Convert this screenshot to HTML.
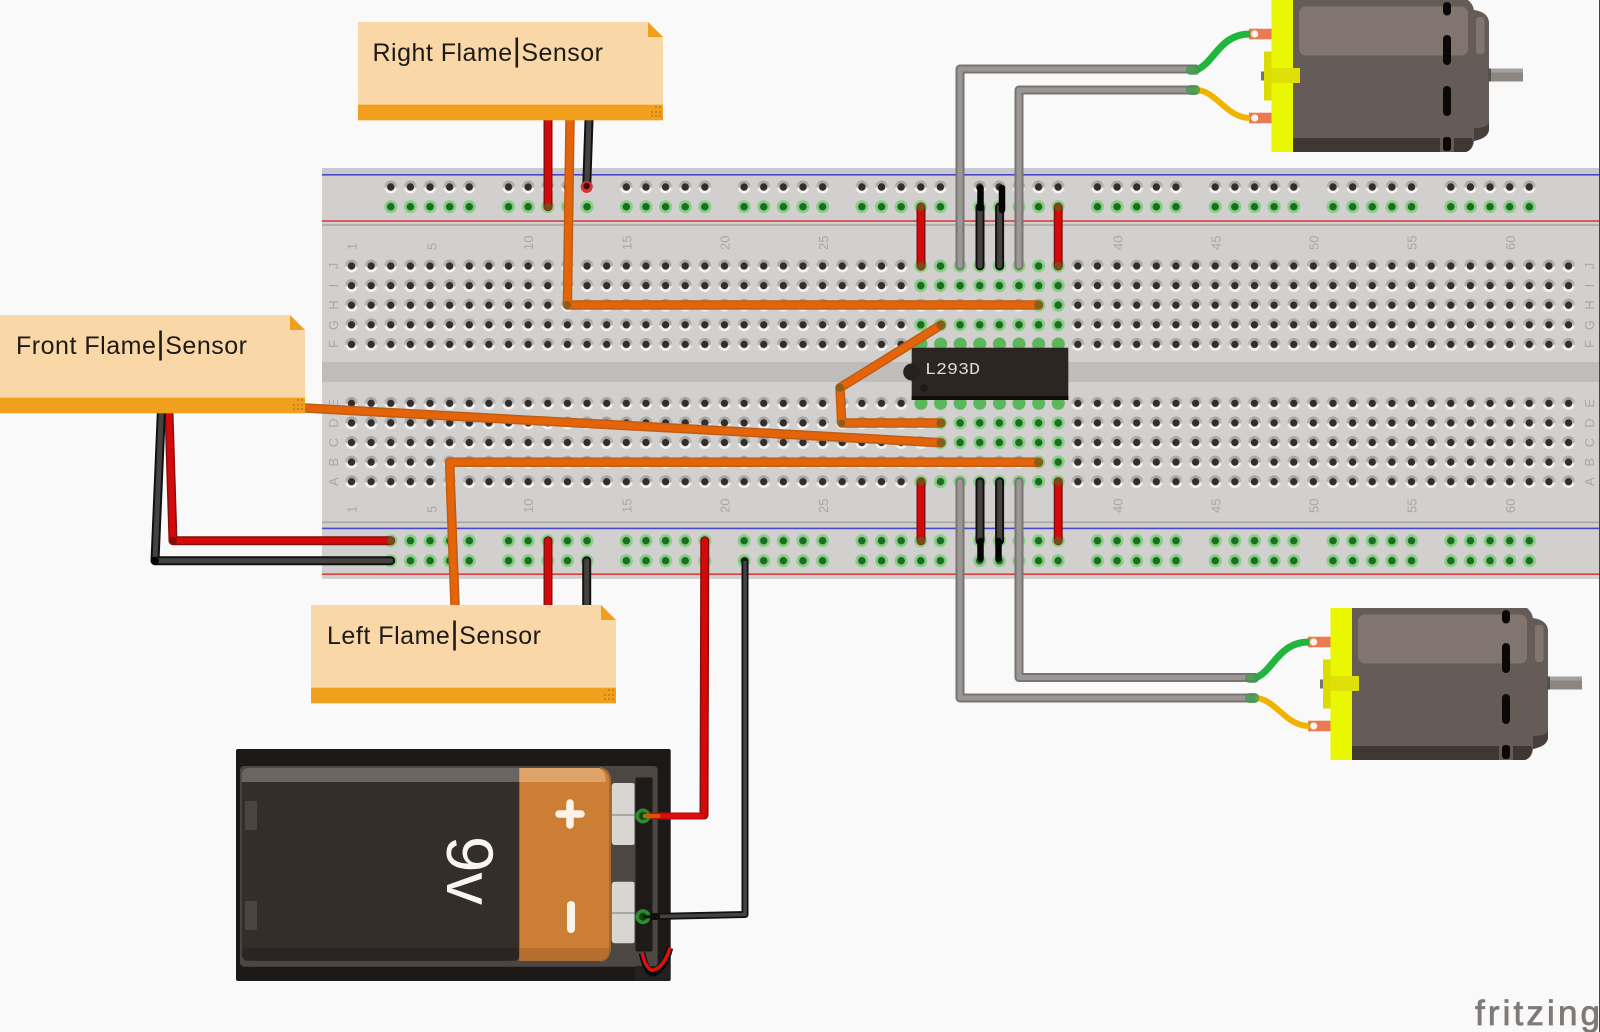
<!DOCTYPE html>
<html><head><meta charset="utf-8"><style>
html,body{margin:0;padding:0;background:#f9f9f9;overflow:hidden}
svg{display:block}
text{font-family:"Liberation Sans",sans-serif}
.n{font-size:13px;fill:#a9a7a4}
.nt{font-size:25px;fill:#1d1a18}
.nt tspan{font-size:32px;font-weight:normal}
</style></head><body>
<svg width="1600" height="1032" viewBox="0 0 1600 1032" xmlns="http://www.w3.org/2000/svg">
<defs>
<linearGradient id="hg" x1="0" y1="0" x2="0" y2="1"><stop offset="0" stop-color="#a3a09d"/><stop offset=".48" stop-color="#b9b6b4"/><stop offset=".62" stop-color="#eeedec"/><stop offset="1" stop-color="#f7f6f5"/></linearGradient>
<g id="h"><circle r="6.4" fill="url(#hg)"/><circle r="3.7" fill="#332e2b"/></g>
<g id="g"><circle r="6.5" fill="#86cf84"/><circle r="3.8" fill="#1c6d22"/></g>
<pattern id="pm" patternUnits="userSpaceOnUse" x="341.68" y="256.2" width="19.63" height="19.6"><use href="#h" x="9.815" y="9.8"/></pattern>
<pattern id="pm2" patternUnits="userSpaceOnUse" x="341.68" y="393.5" width="19.63" height="19.6"><use href="#h" x="9.815" y="9.8"/></pattern>
<pattern id="pr" patternUnits="userSpaceOnUse" x="380.95" y="177" width="117.78" height="20">
<use href="#h" x="9.815" y="10"/><use href="#h" x="29.445" y="10"/><use href="#h" x="49.075" y="10"/><use href="#h" x="68.705" y="10"/><use href="#h" x="88.335" y="10"/></pattern>
<pattern id="pg" patternUnits="userSpaceOnUse" x="380.95" y="196.7" width="117.78" height="20">
<use href="#g" x="9.815" y="10"/><use href="#g" x="29.445" y="10"/><use href="#g" x="49.075" y="10"/><use href="#g" x="68.705" y="10"/><use href="#g" x="88.335" y="10"/></pattern>
<pattern id="pg2" patternUnits="userSpaceOnUse" x="380.95" y="530.7" width="117.78" height="20">
<use href="#g" x="9.815" y="10"/><use href="#g" x="29.445" y="10"/><use href="#g" x="49.075" y="10"/><use href="#g" x="68.705" y="10"/><use href="#g" x="88.335" y="10"/></pattern>
<pattern id="pg3" patternUnits="userSpaceOnUse" x="380.95" y="550.7" width="117.78" height="20">
<use href="#g" x="9.815" y="10"/><use href="#g" x="29.445" y="10"/><use href="#g" x="49.075" y="10"/><use href="#g" x="68.705" y="10"/><use href="#g" x="88.335" y="10"/></pattern>
<pattern id="pgm" patternUnits="userSpaceOnUse" x="911" y="256.2" width="19.63" height="19.6"><use href="#g" x="9.815" y="9.8"/></pattern>
<pattern id="pgm2" patternUnits="userSpaceOnUse" x="911" y="393.5" width="19.63" height="19.6"><use href="#g" x="9.815" y="9.8"/></pattern>
<g id="motor">
<path d="M1292 0H1468Q1473 4 1474 10Q1488 12 1489 22V130Q1488 138 1474 141Q1473 150 1466 152H1292Z" fill="#655c57"/>
<path d="M1292 138H1472L1473 141Q1472 150 1466 152H1292Z" fill="#3f3733"/>
<path d="M1474 128Q1488 128 1489 122V130Q1488 138 1474 141Z" fill="#473f3b"/>
<rect x="1299" y="6.5" width="169" height="49" rx="7" fill="#80766f"/>
<rect x="1476" y="17" width="8.5" height="37" rx="3" fill="#80766f"/>
<rect x="1440" y="136" width="14" height="16" fill="#655c57"/>
<rect x="1443" y="2" width="8" height="13.5" rx="4" fill="#0b0908"/>
<rect x="1443" y="35" width="8" height="30" rx="4" fill="#0b0908"/>
<rect x="1443" y="86" width="8" height="30" rx="4" fill="#0b0908"/>
<rect x="1443" y="137" width="8" height="14" rx="3" fill="#0b0908"/>
<rect x="1488" y="68.5" width="35" height="13" fill="#8c8683"/>
<rect x="1488" y="68.5" width="35" height="4" fill="#a5a09d"/>
<rect x="1488" y="68.5" width="3" height="13" fill="#55504c"/>
<rect x="1261" y="71.5" width="4" height="9" fill="#77736a"/>
<rect x="1264" y="51.5" width="8" height="49" fill="#dcdc00"/>
<rect x="1249" y="28.7" width="23" height="10.6" fill="#e87c50"/>
<rect x="1249" y="112.7" width="23" height="10.6" fill="#e87c50"/>
<circle cx="1254.7" cy="34" r="3.6" fill="#fbf3ea"/><circle cx="1254.7" cy="118" r="3.6" fill="#fbf3ea"/>
<rect x="1271.5" y="0" width="21.5" height="152" fill="#e9f700"/>
<rect x="1271.5" y="68" width="28.5" height="15" fill="#dfdf0a"/>
<path d="M1196 70C1214 64 1219 34 1250 34" fill="none" stroke="#22b53d" stroke-width="7"/>
<path d="M1196 90C1216 90 1226 118 1250 118" fill="none" stroke="#f0b400" stroke-width="6"/>
<rect x="1186" y="65" width="14" height="10" rx="4.5" fill="#3d9a49" opacity=".75"/>
<rect x="1186" y="85" width="14" height="10" rx="4.5" fill="#3d9a49" opacity=".75"/>
</g>
<g id="wor" fill="none" stroke-linejoin="round" stroke-linecap="round">
<path d="M570 120L567.4 305H1038.6"/>
<path d="M941 325L840 387.7L841.7 423H941"/>
<path d="M305 408L941 442.7"/>
<path d="M455 605L449.6 462.3H1038.6"/>
</g>
<g id="wre" fill="none" stroke-linejoin="round" stroke-linecap="round">
<path d="M548 120V206.7"/>
<path d="M169 413L173 540.7H390.7"/>
<path d="M548 605V540.7"/>
<path d="M921 207V266"/><path d="M1058.2 207V266"/>
<path d="M921 481.7V540.7"/><path d="M1058.2 481.7V540.7"/>
<path d="M704 815L704.8 540.7"/>
</g>
<g id="wbl" fill="none" stroke-linejoin="round" stroke-linecap="round">
<path d="M589 120L586.7 187"/>
<path d="M161.3 413L155 560.7H390.7"/>
<path d="M586.7 605V560.7"/>
<path d="M980 207V266"/><path d="M999.6 207V266"/>
<path d="M980 481.7V540.7"/><path d="M999.6 481.7V540.7"/>
</g>
<g id="wgr" fill="none" stroke-linejoin="round" stroke-linecap="round">
<path d="M960 266V69H1196"/>
<path d="M1019 266V90H1196"/>
<path d="M960 481.7V698H1255"/>
<path d="M1019 481.7V677.5H1255"/>
</g>
<g id="note">
<path d="M0 0H290L305 15V98H0Z" fill="#f9d7a6"/>
<rect x="0" y="82.7" width="305" height="15.6" fill="#f0a01c"/>
<path d="M290 0L305 15H290Z" fill="#f0a01c"/>
<g fill="#c9851a"><rect x="297" y="84" width="2" height="2"/><rect x="301" y="84" width="2" height="2"/><rect x="297" y="89" width="2" height="2"/><rect x="301" y="89" width="2" height="2"/><rect x="293" y="89" width="2" height="2"/><rect x="293" y="93" width="2" height="2"/><rect x="297" y="93" width="2" height="2"/><rect x="301" y="93" width="2" height="2"/></g>
</g>
</defs>

<rect width="1600" height="1032" fill="#f9f9f9"/>

<!-- breadboard -->
<rect x="322" y="168" width="1278" height="411" fill="#d2d0ce"/>
<rect x="322" y="168" width="1278" height="6" fill="#c9c7d2"/>
<rect x="322" y="362" width="1278" height="20" fill="#bfbcb9"/>
<rect x="322" y="174" width="1278" height="1.6" fill="#4a48c8"/>
<rect x="322" y="220.2" width="1278" height="1.6" fill="#d6403f"/>
<rect x="322" y="224.2" width="1278" height="1.6" fill="#aaa7a5"/>
<rect x="322" y="521.5" width="1278" height="1.6" fill="#aaa7a5"/>
<rect x="322" y="527.6" width="1278" height="1.6" fill="#4a48c8"/>
<rect x="322" y="573.4" width="1278" height="1.6" fill="#d6403f"/>

<!-- holes -->
<rect x="341.68" y="256.2" width="1236.7" height="98" fill="url(#pm)"/>
<rect x="341.68" y="393.5" width="1236.7" height="98" fill="url(#pm2)"/>
<rect x="380.95" y="177" width="1177" height="20" fill="url(#pr)"/>
<rect x="380.95" y="196.7" width="1177" height="20" fill="url(#pg)"/>
<rect x="380.95" y="530.7" width="1177" height="20" fill="url(#pg2)"/>
<rect x="380.95" y="550.7" width="1177" height="20" fill="url(#pg3)"/>

<!-- green main rows -->
<rect x="911" y="256.2" width="157" height="39.2" fill="url(#pgm)"/>
<rect x="1029" y="295.4" width="39.3" height="19.6" fill="url(#pgm)"/>
<rect x="911" y="315" width="157" height="39.2" fill="url(#pgm)"/>
<rect x="911" y="393.5" width="157" height="19.6" fill="url(#pgm2)"/>
<rect x="931" y="413.1" width="137" height="39.2" fill="url(#pgm2)"/>
<rect x="1029" y="452.3" width="39.3" height="19.6" fill="url(#pgm2)"/>
<rect x="911" y="471.9" width="157" height="19.6" fill="url(#pgm2)"/>

<!-- labels -->
<g class="n">
<text transform="translate(356.5,250) rotate(-90)">1</text>
<text transform="translate(436.5,250) rotate(-90)">5</text>
<text transform="translate(533,250) rotate(-90)">10</text>
<text transform="translate(631.5,250) rotate(-90)">15</text>
<text transform="translate(729.5,250) rotate(-90)">20</text>
<text transform="translate(828,250) rotate(-90)">25</text>
<text transform="translate(1122.5,250) rotate(-90)">40</text>
<text transform="translate(1220.5,250) rotate(-90)">45</text>
<text transform="translate(1318.5,250) rotate(-90)">50</text>
<text transform="translate(1416.5,250) rotate(-90)">55</text>
<text transform="translate(1515,250) rotate(-90)">60</text>
<text transform="translate(356.5,513) rotate(-90)">1</text>
<text transform="translate(436.5,513) rotate(-90)">5</text>
<text transform="translate(533,513) rotate(-90)">10</text>
<text transform="translate(631.5,513) rotate(-90)">15</text>
<text transform="translate(729.5,513) rotate(-90)">20</text>
<text transform="translate(828,513) rotate(-90)">25</text>
<text transform="translate(1122.5,513) rotate(-90)">40</text>
<text transform="translate(1220.5,513) rotate(-90)">45</text>
<text transform="translate(1318.5,513) rotate(-90)">50</text>
<text transform="translate(1416.5,513) rotate(-90)">55</text>
<text transform="translate(1515,513) rotate(-90)">60</text>
<g text-anchor="middle">
<text transform="translate(338,266) rotate(-90)">J</text><text transform="translate(338,285.5) rotate(-90)">I</text><text transform="translate(338,305) rotate(-90)">H</text><text transform="translate(338,325) rotate(-90)">G</text><text transform="translate(338,344) rotate(-90)">F</text>
<text transform="translate(338,403.3) rotate(-90)">E</text><text transform="translate(338,423) rotate(-90)">D</text><text transform="translate(338,442.6) rotate(-90)">C</text><text transform="translate(338,462.3) rotate(-90)">B</text><text transform="translate(338,481.7) rotate(-90)">A</text>
<text transform="translate(1594,266) rotate(-90)">J</text><text transform="translate(1594,285.5) rotate(-90)">I</text><text transform="translate(1594,305) rotate(-90)">H</text><text transform="translate(1594,325) rotate(-90)">G</text><text transform="translate(1594,344) rotate(-90)">F</text>
<text transform="translate(1594,403.3) rotate(-90)">E</text><text transform="translate(1594,423) rotate(-90)">D</text><text transform="translate(1594,442.6) rotate(-90)">C</text><text transform="translate(1594,462.3) rotate(-90)">B</text><text transform="translate(1594,481.7) rotate(-90)">A</text>
</g></g>

<!-- IC -->
<g fill="#5cb65c"><circle cx="921" cy="344" r="6.5"/><circle cx="940.6" cy="344" r="6.5"/><circle cx="960.2" cy="344" r="6.5"/><circle cx="979.8" cy="344" r="6.5"/><circle cx="999.5" cy="344" r="6.5"/><circle cx="1019" cy="344" r="6.5"/><circle cx="1038.7" cy="344" r="6.5"/><circle cx="1058.3" cy="344" r="6.5"/>
<circle cx="921" cy="403.3" r="6.5"/><circle cx="940.6" cy="403.3" r="6.5"/><circle cx="960.2" cy="403.3" r="6.5"/><circle cx="979.8" cy="403.3" r="6.5"/><circle cx="999.5" cy="403.3" r="6.5"/><circle cx="1019" cy="403.3" r="6.5"/><circle cx="1038.7" cy="403.3" r="6.5"/><circle cx="1058.3" cy="403.3" r="6.5"/></g>
<rect x="911.7" y="347.7" width="156.6" height="52.3" fill="#2c2623"/>
<rect x="911.7" y="396" width="156.6" height="4" fill="#0f0c0b"/>
<circle cx="911.7" cy="372" r="8.5" fill="#252120"/>
<circle cx="924" cy="388" r="3.8" fill="#1e1a18"/>
<text x="925" y="374" textLength="55" lengthAdjust="spacingAndGlyphs" style="font-family:'Liberation Mono',monospace;font-size:17px;fill:#dedbd8">L293D</text>

<!-- wires -->
<use href="#wgr" stroke="#787473" stroke-width="9"/><use href="#wgr" stroke="#9b9795" stroke-width="5"/>
<use href="#wre" stroke="#84100f" stroke-width="9"/><use href="#wre" stroke="#d40a0a" stroke-width="6"/>
<use href="#wbl" stroke="#111" stroke-width="9"/><use href="#wbl" stroke="#464240" stroke-width="5"/>
<use href="#wor" stroke="#bc5e14" stroke-width="9.5"/><use href="#wor" stroke="#e5640a" stroke-width="6.5"/>
<!-- jumper tips -->
<g stroke="#050505" stroke-width="6.5" stroke-linecap="round"><path d="M980.5 188V208"/><path d="M1002 188V210"/><path d="M980.5 541V559"/><path d="M998.5 541V559"/></g>
<g fill="#8a5d1a"><circle cx="941" cy="325" r="4.5"/><circle cx="941" cy="423" r="4.5"/><circle cx="941" cy="442.7" r="4.5"/><circle cx="1038.6" cy="305" r="4.5"/><circle cx="1038.6" cy="462.3" r="4.5"/><circle cx="840" cy="387.7" r="4"/><circle cx="841.7" cy="423" r="3.5"/><circle cx="567.4" cy="305" r="4"/></g>
<g fill="#7a4a18"><circle cx="921" cy="207" r="4"/><circle cx="1058.2" cy="207" r="4"/><circle cx="921" cy="266" r="4"/><circle cx="1058.2" cy="266" r="4"/><circle cx="921" cy="481.7" r="4"/><circle cx="1058.2" cy="481.7" r="4"/><circle cx="921" cy="540.7" r="4"/><circle cx="1058.2" cy="540.7" r="4"/><circle cx="548" cy="206.7" r="4"/><circle cx="390.7" cy="540.7" r="4"/></g>
<circle cx="586.7" cy="187" r="6" fill="#d83232"/><circle cx="586.7" cy="186" r="3.2" fill="#40080a"/>
<circle cx="155" cy="560.7" r="4" fill="#050505"/><circle cx="173" cy="540.7" r="4" fill="#8a0d0d"/>

<!-- motors -->
<use href="#motor"/>
<use href="#motor" transform="translate(59,608)"/>

<!-- battery -->
<rect x="236" y="749" width="434.7" height="232" rx="2" fill="#1c1916"/>
<rect x="240" y="766" width="417.7" height="200.7" rx="4" fill="#4c4743"/>
<rect x="635" y="966" width="35" height="15" fill="#24201d"/>
<rect x="241.7" y="768" width="278" height="192.7" rx="9" fill="#352d2a"/>
<path d="M248 768H519.5V782H241.7V775Q242 769 248 768Z" fill="#6b6562"/>
<rect x="241.7" y="948" width="278" height="12.7" rx="6" fill="#2a2422"/>
<path d="M519.3 768H600Q610 770 610 782V948Q609 960 600 960.7H519.3Z" fill="#cc7e35"/>
<path d="M519.3 768H600Q605 770 606 782H519.3Z" fill="#dfa36a"/>
<path d="M519.3 948H610Q609 960 600 960.7H519.3Z" fill="#b56e2d"/>
<path d="M600 768Q610 770 610 782V948Q609 960 600 960.7" fill="none" stroke="#a8692f" stroke-width="2"/>
<rect x="245" y="801" width="12" height="29" rx="1" fill="#4a4440"/>
<rect x="245" y="901" width="12" height="29" rx="1" fill="#4a4440"/>
<path d="M559 814H581M570 803V825" stroke="#fbf3ea" stroke-width="7.5" stroke-linecap="round"/>
<path d="M571 905V929" stroke="#fbf3ea" stroke-width="8" stroke-linecap="round"/>
<text transform="translate(447,836) rotate(90)" textLength="69" lengthAdjust="spacingAndGlyphs" style="font-size:66px;fill:#f7f4f1">9v</text>
<rect x="611.7" y="783" width="23.5" height="62" rx="3" fill="#d8d6d3"/><rect x="611.7" y="814" width="23.5" height="2" fill="#a9a6a3"/>
<rect x="611.7" y="881.7" width="23.5" height="61.5" rx="3" fill="#d8d6d3"/><rect x="611.7" y="912" width="23.5" height="2" fill="#a9a6a3"/>
<rect x="635" y="777" width="18" height="175" rx="2" fill="#1e1a18" stroke="#4c4743" stroke-width="1"/>
<path d="M642 953Q647 975 654 973Q664 970 670 948" fill="none" stroke="#0a0a0a" stroke-width="6.5"/>
<path d="M642 953Q647 972 654 970Q664 967 670 948" fill="none" stroke="#dc1212" stroke-width="3.5"/>
<path d="M643 816H704" stroke="#b80c0c" stroke-width="7"/><path d="M643 816H704" stroke="#dc0e0e" stroke-width="4.5"/>
<path d="M643 916.7L745 914.5V560.7" fill="none" stroke="#111" stroke-width="7" stroke-linejoin="round" stroke-linecap="round"/>
<path d="M660 916.4L745 914.5V560.7" fill="none" stroke="#464240" stroke-width="3.5" stroke-linejoin="round"/>
<circle cx="643" cy="816" r="7.5" fill="#2f8a34"/><circle cx="643" cy="816" r="4" fill="#0d4a12"/>
<circle cx="643" cy="916.7" r="7.5" fill="#2f8a34"/><circle cx="643" cy="916.7" r="4" fill="#0d4a12"/>
<path d="M643 816H660" stroke="#cf5a0a" stroke-width="4"/>
<path d="M643 916.7H660" stroke="#111" stroke-width="3"/>

<!-- notes -->
<use href="#note" x="358" y="22"/>
<use href="#note" x="0" y="315"/>
<use href="#note" x="311" y="605"/>
<text class="nt" x="372.5" y="61" textLength="230.5">Right Flame<tspan>|</tspan>Sensor</text>
<text class="nt" x="16" y="354" textLength="231">Front Flame<tspan>|</tspan>Sensor</text>
<text class="nt" x="327" y="644" textLength="214">Left Flame<tspan>|</tspan>Sensor</text>

<text x="1475" y="1025" textLength="125" lengthAdjust="spacing" style="font-size:35px;fill:#7f7a77;stroke:#7f7a77;stroke-width:.8">fritzing</text>
<rect x="1599" y="0" width="1" height="1032" fill="#444"/>
</svg>
</body></html>
